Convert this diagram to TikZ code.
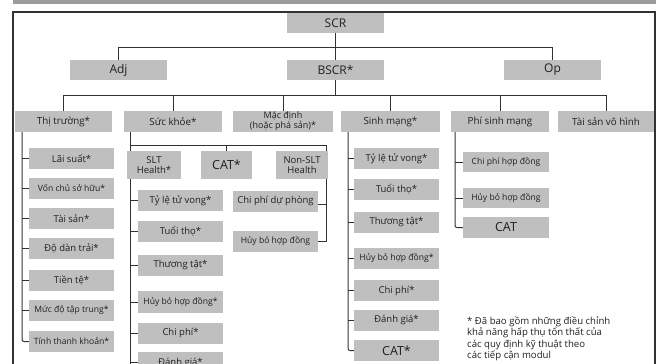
\documentclass[tikz,border=0pt]{standalone}
\usepackage{fontspec}
\setmainfont{Open Sans}
\pgfdeclarelayer{bg}
\pgfsetlayers{bg,main}
\definecolor{boxgray}{RGB}{191,191,191}
\definecolor{bargray}{RGB}{155,155,155}
\definecolor{linegray}{RGB}{50,50,50}
\definecolor{txt}{RGB}{35,31,32}
\begin{document}
\begin{tikzpicture}[x=1pt,y=-1pt,
  box/.style={fill=boxgray, inner sep=0pt, text=txt, align=center, font=\fontsize{9.5}{10.5}\selectfont},
  lvone/.style={box, minimum width=97pt, minimum height=20pt, font=\fontsize{12}{14}\selectfont},
  lvtwo/.style={box, minimum height=21pt, font=\fontsize{9.8}{10.5}\selectfont},
  child/.style={box, minimum width=85pt, minimum height=21pt},
  small/.style={font=\fontsize{8.6}{10}\selectfont},
  big/.style={font=\fontsize{12.5}{14}\selectfont},
  conn/.style={draw=linegray, line width=1pt},
  frameline/.style={draw=linegray, line width=1.5pt}]
\useasboundingbox (0,0) rectangle (662,364);
\clip (0,0) rectangle (662,364);
% top bar and frame
\fill[bargray] (13,0) rectangle (656,4);
\draw[frameline] (13,364) -- (13,12) -- (655,12);
\draw[draw=linegray, line width=2pt] (655,11.3) -- (655,364);
% level 0/1
\node[lvone] (scr) at (335.5,23) {SCR};
\node[lvone] (adj) at (118.5,70) {Adj};
\node[lvone] (bscr) at (335.5,70) {BSCR*};
\node[lvone] (op) at (552.5,70) {Op};
% level 2
\node[lvtwo, minimum width=97pt] (tt) at (63.5,121.5) {Thị trường*};
\node[lvtwo, minimum width=98pt] (sk) at (173,121.5) {Sức khỏe*};
\node[lvtwo, minimum width=100pt, font=\fontsize{9}{10}\selectfont] (md) at (283,121.5) {Mặc định\\(hoặc phá sản)*};
\node[lvtwo, minimum width=99pt] (sm) at (390.5,121.5) {Sinh mạng*};
\node[lvtwo, minimum width=98pt] (ps) at (500,121.5) {Phí sinh mạng};
\node[lvtwo, minimum width=96pt] (ts) at (606,121.5) {Tài sản vô hình};
% Thi truong children
\node[child] (t1) at (71.5,158.5) {Lãi suất*};
\node[child, small] (t2) at (71.5,188.5) {Vốn chủ sở hữu*};
\node[child] (t3) at (71.5,218.5) {Tài sản*};
\node[child] (t4) at (71.5,248.5) {Độ dàn trải*};
\node[child] (t5) at (71.5,280.5) {Tiền tệ*};
\node[child, small] (t6) at (71.5,310.5) {Mức độ tập trung*};
\node[child, small] (t7) at (71.5,341.5) {Tính thanh khoản*};
% Suc khoe children
\node[box, minimum width=54pt, minimum height=28pt] (slt) at (154,165) {SLT\\Health*};
\node[box, big, minimum width=51pt, minimum height=28pt] (cat) at (226.5,165) {CAT*};
\node[box, minimum width=52pt, minimum height=28pt] (nslt) at (302,165) {Non-SLT\\Health};
\node[child] (s1) at (180.5,200.5) {Tỷ lệ tử vong*};
\node[child] (s2) at (180.5,231.5) {Tuổi thọ*};
\node[child] (s3) at (180.5,265.5) {Thương tật*};
\node[child, small, minimum height=22pt] (s4) at (180.5,302) {Hủy bỏ hợp đồng*};
\node[child] (s5) at (180.5,333) {Chi phí*};
\node[child] (s6) at (180.5,362.5) {Đánh giá*};
\node[child] (n1) at (275.5,201.5) {Chi phí dự phòng};
\node[child, small] (n2) at (275.5,241.5) {Hủy bỏ hợp đồng};
% Sinh mang children
\node[child] (m1) at (396.5,158.5) {Tỷ lệ tử vong*};
\node[child] (m2) at (396.5,189.5) {Tuổi thọ*};
\node[child] (m3) at (396.5,222.5) {Thương tật*};
\node[child, small] (m4) at (396.5,258.5) {Hủy bỏ hợp đồng*};
\node[child] (m5) at (396.5,290.5) {Chi phí*};
\node[child] (m6) at (396.5,320) {Đánh giá*};
\node[child, big] (m7) at (396.5,350.5) {CAT*};
% Phi sinh mang children
\node[child, small, minimum width=86pt, minimum height=20pt] (p1) at (506,162) {Chi phí hợp đồng};
\node[child, small, minimum width=86pt, minimum height=20pt] (p2) at (506,198) {Hủy bỏ hợp đồng};
\node[child, big, minimum width=86pt] (p3) at (506,227.5) {CAT};
% footnote
\node[anchor=north west, align=left, inner sep=0pt, text=txt, font=\fontsize{9.6}{11.6}\selectfont] (note) at (467,316)
  {* Đã bao gồm những điều chỉnh\\khả năng hấp thụ tổn thất của\\các quy định kỹ thuật theo\\các tiếp cận modul};
% connectors
\coordinate (hone) at (0,47);
\coordinate (htwo) at (0,95);
\coordinate (vt) at (22,0);
\coordinate (vs) at (130,0);
\coordinate (hs) at (0,145);
\coordinate (vn) at (326,0);
\coordinate (vm) at (348,0);
\coordinate (vp) at (455,0);
\begin{pgfonlayer}{bg}
\draw[conn] (scr.south) -- (bscr.north);
\draw[conn] (adj.north) -- (adj.north |- hone) -- (op.north |- hone) -- (op.north);
\draw[conn] (bscr.south) -- (bscr.south |- htwo);
\draw[conn] (tt.north) -- (tt.north |- htwo) -- (ts.north |- htwo) -- (ts.north);
\foreach \n in {sk,md,sm,ps} \draw[conn] (\n.north |- htwo) -- (\n.north);
% thi truong
\draw[conn, rounded corners=2pt] (vt |- tt.south) -- (vt |- t7.west) -- (t7.west);
\foreach \n in {t1,t2,t3,t4,t5,t6} \draw[conn] (vt |- \n.west) -- (\n.west);
% suc khoe
\draw[conn] (vs |- sk.south) -- ([yshift=-6pt]vs |- s6.west);
\draw[conn] (vs |- hs) -- (vn |- hs) -- (vn |- n2.east) -- (n2.east);
\draw[conn] (cat.north |- hs) -- (cat.north);
\draw[conn] ([yshift=-2.5pt]vn |- n1.east) -- ([yshift=-2.5pt]n1.east);
\foreach \n in {s1,s2,s3,s4,s5,s6} \draw[conn] (vs |- \n.west) -- (\n.west);
% sinh mang
\draw[conn, rounded corners=2pt] (vm |- sm.south) -- (vm |- m7.west) -- (m7.west);
\foreach \n in {m1,m2,m3,m4,m5,m6} \draw[conn] (vm |- \n.west) -- (\n.west);
% phi sinh mang
\draw[conn, rounded corners=2pt] (vp |- ps.south) -- (vp |- p3.west) -- (p3.west);
\foreach \n in {p1,p2} \draw[conn] (vp |- \n.west) -- (\n.west);
\end{pgfonlayer}
\end{tikzpicture}
\end{document}
